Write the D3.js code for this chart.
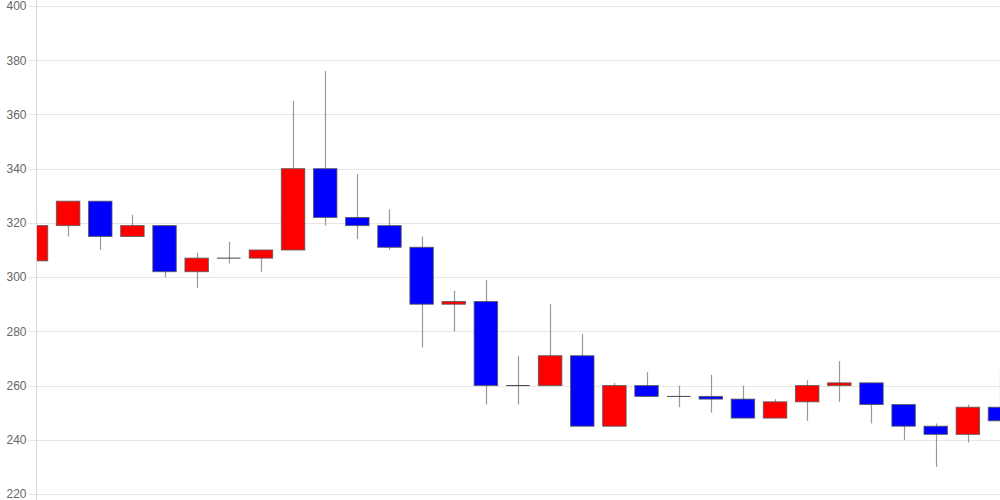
<!DOCTYPE html>
<html>
<head>
<meta charset="utf-8">
<script src="https://cdn.jsdelivr.net/npm/d3@7"></script>
<style>
  html, body { margin: 0; padding: 0; background: #fff; }
  svg { display: block; }
</style>
</head>
<body>
<svg id="chart" width="1000" height="500"></svg>
<script>
const openVals  = [306, 319, 328, 315, 319, 302, 307, 307, 310, 340, 322, 319, 311, 290, 291, 260, 260, 271, 245, 260, 256, 256, 255, 248, 254, 260, 261, 253, 245, 242, 252];
const closeVals = [319, 328, 315, 319, 302, 307, 307, 310, 340, 322, 319, 311, 290, 291, 260, 260, 271, 245, 260, 256, 256, 255, 248, 254, 260, 261, 253, 245, 242, 252, 247];
const highVals  = [325, 328, 328, 323, 319, 309, 313, 310, 365, 376, 338, 325, 315, 295, 299, 271, 290, 279, 261, 265, 260, 264, 260, 255, 262, 269, 261, 253, 246, 253, 265];
const lowVals   = [305, 315, 310, 315, 300, 296, 305, 302, 310, 319, 314, 310, 274, 280, 253, 253, 260, 245, 245, 256, 252, 250, 248, 248, 247, 254, 246, 240, 230, 239, 246];
const yTicks = [220, 240, 260, 280, 300, 320, 340, 360, 380, 400];

const data = openVals.map((o, i) => ({ i, o, c: closeVals[i], h: highVals[i], l: lowVals[i] }));

const svg = d3.select("#chart");
const mLeft = 36, mRight = 1000, mTop = 6, mBottom = 494;

const x = d3.scalePoint().domain(data.map(d => d.i)).range([mLeft, mRight]).padding(0);
const y = d3.scaleLinear().domain([220, 400]).range([mBottom, mTop]);
const step = x.step();
const bw = step * 0.73;

// grid
svg.append("g").selectAll("line").data(yTicks).join("line")
  .attr("x1", mLeft - 8).attr("x2", mRight)
  .attr("y1", d => Math.round(y(d)) + 0.5).attr("y2", d => Math.round(y(d)) + 0.5)
  .attr("stroke", "#e6e6e6").attr("stroke-width", 1);

// y axis
const yAxis = d3.axisLeft(y).tickValues(yTicks).tickSize(0).tickPadding(10);
const ga = svg.append("g").attr("transform", `translate(${mLeft + 0.5},0)`).call(yAxis);
ga.select(".domain").attr("stroke", "#d9d9d9").attr("d", `M0,0V${mBottom + 6}`);
ga.selectAll("text").attr("fill", "#666").attr("font-size", 12)
  .attr("font-family", "Liberation Sans, Arial, sans-serif");

svg.append("defs").append("clipPath").attr("id", "clip")
  .append("rect").attr("x", mLeft + 1).attr("y", 0).attr("width", mRight - mLeft).attr("height", 500);

const g = svg.append("g").attr("clip-path", "url(#clip)");

// wicks
g.selectAll("line.wick").data(data).join("line").attr("class", "wick")
  .attr("x1", d => Math.round(x(d.i)) + 0.5).attr("x2", d => Math.round(x(d.i)) + 0.5)
  .attr("y1", d => y(d.h)).attr("y2", d => y(d.l))
  .attr("stroke", "#999").attr("stroke-width", 1.2);

// bodies
g.selectAll("rect.body").data(data.filter(d => d.o !== d.c)).join("rect").attr("class", "body")
  .attr("x", d => x(d.i) - bw / 2)
  .attr("y", d => y(Math.max(d.o, d.c)))
  .attr("width", bw)
  .attr("height", d => Math.abs(y(d.o) - y(d.c)))
  .attr("fill", d => d.c > d.o ? "#ff0000" : "#0000ff")
  .attr("stroke", "#555").attr("stroke-opacity", 0.8).attr("stroke-width", 1);

// doji
g.selectAll("line.doji").data(data.filter(d => d.o === d.c)).join("line").attr("class", "doji")
  .attr("x1", d => x(d.i) - bw / 2).attr("x2", d => x(d.i) + bw / 2)
  .attr("y1", d => y(d.o)).attr("y2", d => y(d.o))
  .attr("stroke", "#444").attr("stroke-width", 1);
</script>
</body>
</html>
